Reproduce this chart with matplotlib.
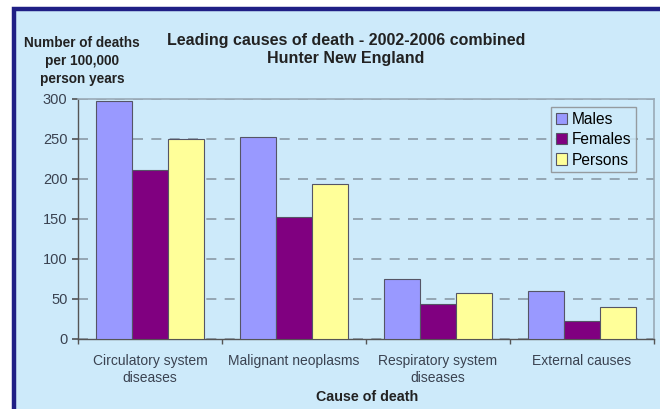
import numpy as np
import matplotlib.pyplot as plt
from matplotlib.patches import Rectangle

# Death rates per 100,000 person years, 2002-2006 combined
causes = ['Circulatory system\ndiseases', 'Malignant neoplasms',
          'Respiratory system\ndiseases', 'External causes']
males = [297, 252, 75, 60]
females = [211, 152, 44, 22]
persons = [250, 194, 57, 40]

series = [('Males', males, '#9999ff'),
          ('Females', females, '#800080'),
          ('Persons', persons, '#ffff99')]

bg = '#cdeafa'
plt.rcParams['font.family'] = ['Liberation Sans', 'DejaVu Sans']

fig = plt.figure(figsize=(6.6, 4.09), dpi=100, facecolor='white')

# panel background with a navy frame on the left and top
panel = Rectangle((13.5 / 660, -0.05), 1.1, 1.05 - 8.5 / 409,
                  transform=fig.transFigure, facecolor=bg,
                  edgecolor='#1f1f85', linewidth=3.2, zorder=-5)
fig.add_artist(panel)

ax = fig.add_axes([78 / 660, 1 - 339 / 409, 576 / 660, 240 / 409])
ax.set_facecolor(bg)

x = np.arange(len(causes))
w = 0.25
for i, (name, vals, col) in enumerate(series):
    ax.bar(x + (i - 1) * w, vals, w, color=col, edgecolor='#555566',
           linewidth=0.8, label=name, zorder=3)

ax.set_xlim(-0.5, len(causes) - 0.5)
ax.set_ylim(0, 300)
ax.set_yticks(range(0, 301, 50))
ax.yaxis.grid(True, linestyle=(0, (6, 5)), color='#8a9aa6', linewidth=1.2, zorder=1)
ax.set_axisbelow(True)

ax.set_xticks(x)
ax.set_xticklabels(causes, fontsize=10, color='#3a4250', linespacing=1.3)
ax.set_xticks(np.arange(len(causes) + 1) - 0.5, minor=True)
ax.tick_params(axis='x', which='major', length=0, pad=10.5)
ax.tick_params(axis='x', which='minor', length=3.5, width=1, color='#555555',
               direction='out')
ax.tick_params(axis='y', length=4.5, width=1.1, color='#444444', direction='out',
               labelsize=10.5, labelcolor='#3a4250', pad=3)

for side in ['top', 'right']:
    ax.spines[side].set_color('#9aaab6')
    ax.spines[side].set_linewidth(1.2)
for side in ['left', 'bottom']:
    ax.spines[side].set_color('#555555')
    ax.spines[side].set_linewidth(1.0)

leg = ax.legend(loc='upper right', bbox_to_anchor=((636 - 78) / 576, (339 - 107) / 240),
                fontsize=11.2, frameon=True, fancybox=False, facecolor=bg,
                edgecolor='#888888', handlelength=0.75, handleheight=0.75,
                handletextpad=0.3, labelspacing=0.35, borderpad=0.3,
                borderaxespad=0)
leg.get_frame().set_linewidth(1.0)

fig.text(346 / 660, 1 - 49 / 409, 'Leading causes of death - 2002-2006 combined\nHunter New England',
         ha='center', va='center', fontsize=11.5, fontweight='bold', color='#222222',
         linespacing=1.25)
fig.text(82 / 660, 1 - 61 / 409, 'Number of deaths\nper 100,000\nperson years',
         ha='center', va='center', fontsize=9.8, fontweight='bold', color='#222222',
         linespacing=1.4)
fig.text(367 / 660, 1 - 397 / 409, 'Cause of death', ha='center', va='center',
         fontsize=10.3, fontweight='bold', color='#222222')

fig.savefig('out.png', dpi=100, facecolor='white')
